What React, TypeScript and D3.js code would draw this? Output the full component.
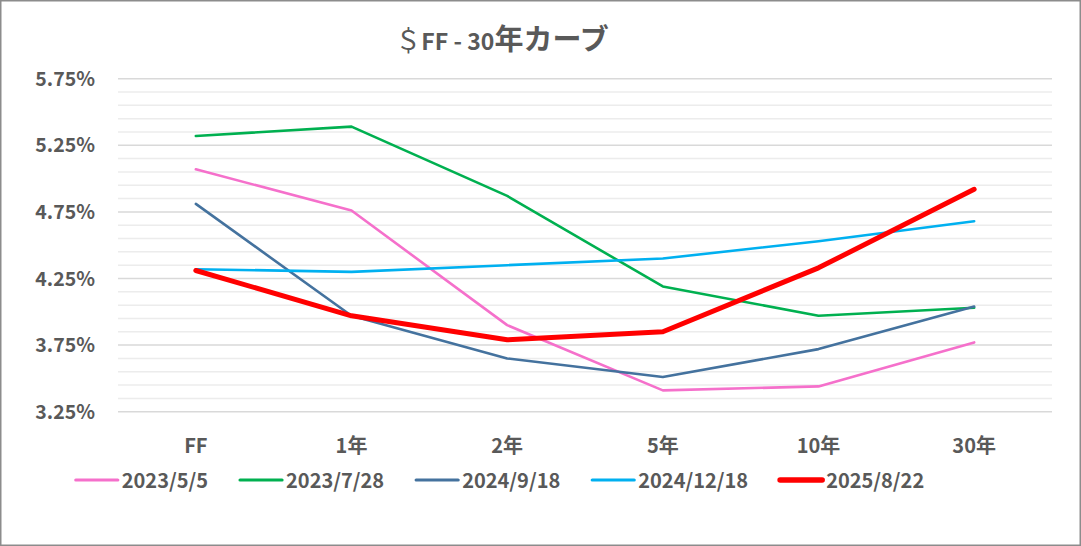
import React, { useEffect, useRef } from 'react';
import * as d3 from 'd3';

const categories = ['FF', '1年', '2年', '5年', '10年', '30年'];
const seriesNames = ['2023/5/5', '2023/7/28', '2024/9/18', '2024/12/18', '2025/8/22'];
const seriesColors = ['#f570cb', '#00b050', '#44729e', '#00b0f0', '#ff0000'];
const seriesWidths = [2.6, 2.6, 2.6, 2.6, 5];

const rates_20230505 = [5.07, 4.76, 3.9, 3.41, 3.44, 3.77];
const rates_20230728 = [5.32, 5.39, 4.87, 4.19, 3.97, 4.03];
const rates_20240918 = [4.81, 3.97, 3.65, 3.51, 3.72, 4.04];
const rates_20241218 = [4.32, 4.3, 4.35, 4.4, 4.53, 4.68];
const rates_20250822 = [4.31, 3.97, 3.79, 3.85, 4.33, 4.92];

const yTicks = [3.25, 3.75, 4.25, 4.75, 5.25, 5.75];
const yMinorStep = 0.1;

const FONT = '"Noto Sans CJK JP", "Noto Sans", sans-serif';
const TEXT_COLOR = '#595959';

const W = 1081;
const H = 546;

export default function App() {
  const svgRef = useRef<SVGSVGElement>(null);

  useEffect(() => {
    if (!svgRef.current) return;
    const svg = d3.select(svgRef.current);
    svg.selectAll('*').remove();

    const allSeries = [rates_20230505, rates_20230728, rates_20240918, rates_20241218, rates_20250822];

    const margin = { left: 118, right: 29, top: 78.7, bottom: 134.3 };
    const x = d3.scalePoint<string>()
      .domain(categories)
      .range([margin.left, W - margin.right])
      .padding(0.5);
    const y = d3.scaleLinear()
      .domain([3.25, 5.75])
      .range([H - margin.bottom, margin.top]);

    // background + border
    svg.append('rect')
      .attr('x', 0.75).attr('y', 0.75)
      .attr('width', W - 1.5).attr('height', H - 1.5)
      .attr('fill', '#fff')
      .attr('stroke', '#8c8c8c')
      .attr('stroke-width', 1.5);

    // minor gridlines
    const minor = d3.range(3.25, 5.75 + 1e-6, yMinorStep).filter(v => !yTicks.some(t => Math.abs(t - v) < 1e-6));
    svg.append('g')
      .selectAll('line')
      .data(minor)
      .join('line')
      .attr('x1', margin.left).attr('x2', W - margin.right)
      .attr('y1', d => y(d)).attr('y2', d => y(d))
      .attr('stroke', '#ececec')
      .attr('stroke-width', 1.5);

    // major gridlines
    svg.append('g')
      .selectAll('line')
      .data(yTicks)
      .join('line')
      .attr('x1', margin.left).attr('x2', W - margin.right)
      .attr('y1', d => y(d)).attr('y2', d => y(d))
      .attr('stroke', '#d9d9d9')
      .attr('stroke-width', 1.5);

    // y labels
    svg.append('g')
      .selectAll('text')
      .data(yTicks)
      .join('text')
      .attr('x', 95)
      .attr('y', d => y(d) + 7)
      .attr('text-anchor', 'end')
      .attr('font-family', FONT)
      .attr('font-weight', 'bold')
      .attr('font-size', 19.5)
      .attr('fill', TEXT_COLOR)
      .text(d => d.toFixed(2) + '%');

    // x labels
    svg.append('g')
      .selectAll('text')
      .data(categories)
      .join('text')
      .attr('x', d => x(d)!)
      .attr('y', 453)
      .attr('text-anchor', 'middle')
      .attr('font-family', FONT)
      .attr('font-weight', 'bold')
      .attr('font-size', 20)
      .attr('fill', TEXT_COLOR)
      .text(d => d);

    // lines
    const line = d3.line<number>()
      .x((_, i) => x(categories[i])!)
      .y(d => y(d));

    svg.append('g')
      .selectAll('path')
      .data(allSeries)
      .join('path')
      .attr('d', d => line(d))
      .attr('fill', 'none')
      .attr('stroke', (_, i) => seriesColors[i])
      .attr('stroke-width', (_, i) => seriesWidths[i])
      .attr('stroke-linejoin', 'round')
      .attr('stroke-linecap', 'round');

    // title
    const title = svg.append('text')
      .attr('x', 502)
      .attr('y', 50)
      .attr('text-anchor', 'middle')
      .attr('font-family', FONT)
      .attr('font-weight', 'bold')
      .attr('fill', TEXT_COLOR);
    title.append('tspan').attr('font-size', 26).attr('font-weight', 'normal').text('＄');
    title.append('tspan').attr('font-size', 23).text('FF - 30');
    title.append('tspan').attr('font-size', 29).text('年カーブ');

    // legend
    const legendG = svg.append('g');
    const sampleLen = 42;
    const gapAfterSample = 4;
    const gapBetween = 32;
    const legendY = 480;
    let cursor = 0;
    seriesNames.forEach((name, i) => {
      const g = legendG.append('g');
      g.append('line')
        .attr('x1', cursor).attr('x2', cursor + sampleLen)
        .attr('y1', legendY).attr('y2', legendY)
        .attr('stroke', seriesColors[i])
        .attr('stroke-width', seriesWidths[i] + 0.6)
        .attr('stroke-linecap', 'round');
      const t = g.append('text')
        .attr('x', cursor + sampleLen + gapAfterSample)
        .attr('y', legendY + 8)
        .attr('font-family', FONT)
        .attr('font-weight', 'bold')
        .attr('font-size', 20)
        .attr('fill', TEXT_COLOR)
        .text(name);
      const tw = (t.node() as SVGTextElement).getComputedTextLength();
      cursor += sampleLen + gapAfterSample + tw + gapBetween;
    });
    const totalW = cursor - gapBetween;
    legendG.attr('transform', `translate(${500 - totalW / 2}, 0)`);
  }, []);

  return (
    <svg
      ref={svgRef}
      width={W}
      height={H}
      style={{ position: 'absolute', left: 0, top: 0, display: 'block' }}
    />
  );
}
